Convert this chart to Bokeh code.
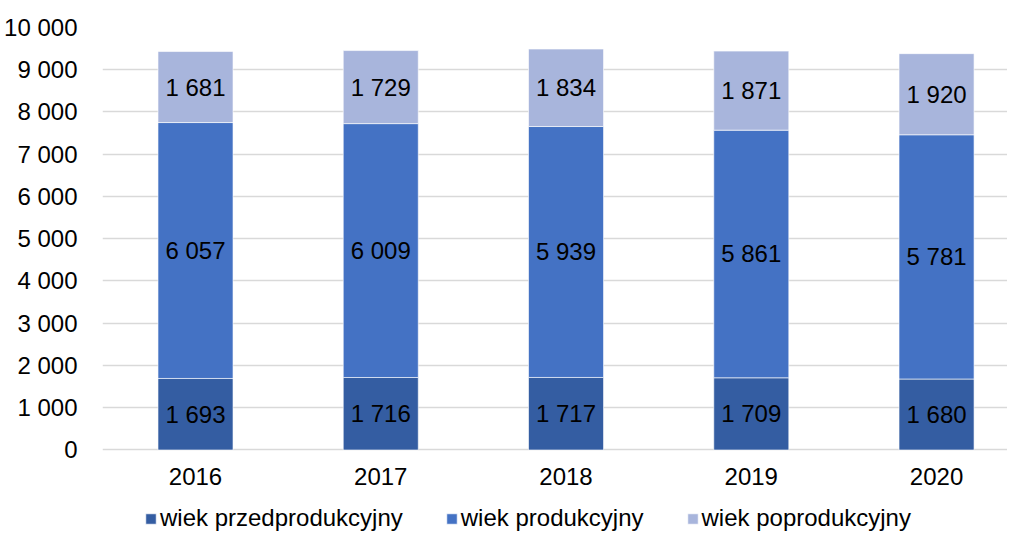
from bokeh.plotting import figure
from bokeh.models import ColumnDataSource, FixedTicker, Range1d
from bokeh.core.properties import value
from bokeh.embed import file_html
from bokeh.resources import INLINE

years = ["2016", "2017", "2018", "2019", "2020"]
przed = [1693, 1716, 1717, 1709, 1680]
prod = [6057, 6009, 5939, 5861, 5781]
poprod = [1681, 1729, 1834, 1871, 1920]
series_names = ["wiek przedprodukcyjny", "wiek produkcyjny", "wiek poprodukcyjny"]
colors = ["#345DA2", "#4472C4", "#A8B5DC"]
y_ticks = [0, 1000, 2000, 3000, 4000, 5000, 6000, 7000, 8000, 9000, 10000]
y_tick_labels = ["0", "1 000", "2 000", "3 000", "4 000", "5 000", "6 000",
                 "7 000", "8 000", "9 000", "10 000"]

FONT = "Liberation Sans"
FS = "24px"
xs = list(range(len(years)))
src = ColumnDataSource(dict(x=xs, przed=przed, prod=prod, poprod=poprod))

p = figure(width=1007, height=532, output_backend="svg", toolbar_location=None,
           x_range=Range1d(-0.502, 4.383), y_range=Range1d(-1953, 10000),
           min_border_left=102, min_border_right=0, min_border_top=27,
           min_border_bottom=0)
p.outline_line_color = None
p.background_fill_color = "white"

p.vbar_stack(["przed", "prod", "poprod"], x="x", width=0.405, source=src,
             color=colors, line_color="white", line_alpha=0.6, line_width=1,
             legend_label=series_names)

# data labels
lx, ly, lt = [], [], []
for i in xs:
    base = 0
    for arr in (przed, prod, poprod):
        v = arr[i]
        lx.append(i)
        ly.append(base + v / 2)
        lt.append(f"{v:,}".replace(",", " "))
        base += v
p.text(x=lx, y=ly, text=lt, text_align="center", text_baseline="middle",
       text_font=value(FONT), text_font_size=FS, text_color="black")

# axes
p.xaxis.ticker = FixedTicker(ticks=xs)
p.xaxis.major_label_overrides = {i: y for i, y in zip(xs, years)}
p.xaxis.fixed_location = 0
p.yaxis.ticker = FixedTicker(ticks=y_ticks)
p.yaxis.major_label_overrides = {t: l for t, l in zip(y_ticks, y_tick_labels)}
for ax in (p.xaxis, p.yaxis):
    ax.axis_line_color = None
    ax.major_tick_line_color = None
    ax.minor_tick_line_color = None
    ax.major_label_text_font = FONT
    ax.major_label_text_font_size = FS
    ax.major_label_text_color = "black"
p.yaxis.major_label_standoff = 19
p.xaxis.major_label_standoff = 12

p.xgrid.grid_line_color = None
p.ygrid.grid_line_color = "#D9D9D9"
p.ygrid.grid_line_width = 1.5
p.ygrid.ticker = FixedTicker(ticks=y_ticks)

lg = p.legend[0]
lg.orientation = "horizontal"
lg.location = (42, 0)
lg.border_line_color = None
lg.background_fill_alpha = 0
lg.padding = 0
lg.margin = 0
lg.glyph_width = 13
lg.glyph_height = 13
lg.label_standoff = 3
lg.spacing = 42
lg.label_text_font = FONT
lg.label_text_font_size = FS
lg.label_text_color = "black"

open("out.html", "w").write(file_html(p, INLINE))
